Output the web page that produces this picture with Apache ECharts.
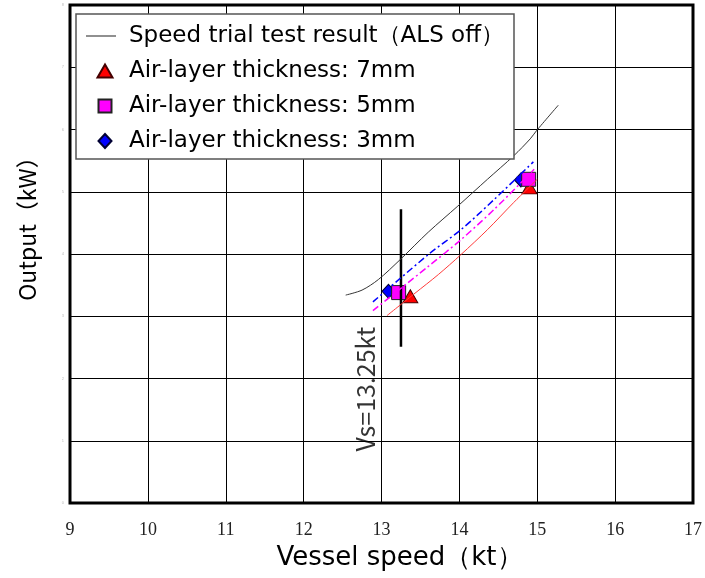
<!DOCTYPE html>
<html>
	<head>
		<meta charset="UTF-8">
		<title>Vessel speed - Output</title>
		<style type="text/css">
			html,body{margin:0;padding:0;background:#fff;}
			#main{
				width:705px;
				height:578px;
			}
		</style>
	</head>
	<body>
		<div id="main"></div>
		<script src="https://cdn.jsdelivr.net/npm/echarts@6.0.0/dist/echarts.min.js" type="text/javascript" charset="utf-8"></script>
		<script type="text/javascript">
			// 速力試験結果 (ALS off)
			var trialSpeed = [12.54, 12.75, 12.96, 13.24, 13.60, 13.98, 14.36, 14.70, 14.91, 14.99, 15.27];
			var trialPower = [3.34, 3.42, 3.59, 3.91, 4.35, 4.77, 5.20, 5.58, 5.85, 5.98, 6.39];
			// 空気層厚さ毎の推定線
			var fit7Speed = [13.07, 13.43, 13.73, 14.02, 14.36, 14.70, 15.00];
			var fit7Power = [3.01, 3.37, 3.67, 3.99, 4.39, 4.83, 5.20];
			var fit5Speed = [12.89, 13.60, 14.02, 14.45, 14.96];
			var fit5Power = [3.09, 3.80, 4.23, 4.72, 5.36];
			var fit3Speed = [12.89, 13.61, 14.02, 14.45, 14.95];
			var fit3Power = [3.23, 4.00, 4.39, 4.88, 5.48];
			// 計測点
			var pt7Speed = [13.37, 14.90];
			var pt7Power = [3.32, 5.07];
			var pt5Speed = [13.22, 14.89];
			var pt5Power = [3.38, 5.20];
			var pt3Speed = [13.09, 14.79];
			var pt3Power = [3.40, 5.19];
			// Vs=13.25kt
			var vsSpeed = [13.25, 13.25];
			var vsPower = [2.51, 4.72];
			var xTicks = [9, 10, 11, 12, 13, 14, 15, 16, 17];

			var names = ['Speed trial test result（ALS off）', 'Air-layer thickness: 7mm', 'Air-layer thickness: 5mm', 'Air-layer thickness: 3mm'];

			function zip(xs, ys){
				var out = [];
				for(var i = 0; i < xs.length; i++){
					out.push([xs[i], ys[i]]);
				}
				return out;
			}

			// 凡例アイコン (38x14 の枠の中に描く)
			var pad = 'M0,0Z M38,14Z ';
			var iconLine = 'path://' + pad + 'M0,6.5H30V7.5H0Z';
			var iconTri = 'path://' + pad + 'M11.5,13.5L19,0.5L26.5,13.5Z';
			var iconRect = 'path://' + pad + 'M12.5,0.5H25.5V13.5H12.5Z';
			var iconDia = 'path://' + pad + 'M19,0L25.5,7L19,14L12.5,7Z';

			var myChart = echarts.init(document.getElementById("main"));
			var option = {
				animation:false,
				grid:{
					left:70, right:8, top:5, bottom:75,
					show:true,
					borderColor:'#000',
					borderWidth:3
				},
				legend:{
					data:[
						{name:names[0], icon:iconLine},
						{name:names[1], icon:iconTri},
						{name:names[2], icon:iconRect},
						{name:names[3], icon:iconDia}
					],
					orient:'vertical',
					left:76, top:14,
					itemWidth:38, itemHeight:14, itemGap:11,
					backgroundColor:'#fff',
					borderColor:'#555',
					borderWidth:1.5,
					borderRadius:0,
					padding:[10,10,6,9],
					textStyle:{fontFamily:'DejaVu Sans', fontSize:23, lineHeight:24, color:'#000'}
				},
				xAxis:{
					type:'value',
					min:xTicks[0], max:xTicks[xTicks.length - 1], interval:1,
					axisLine:{show:false},
					axisTick:{show:false},
					splitLine:{lineStyle:{color:'#000', width:1}},
					axisLabel:{fontFamily:'Liberation Serif', fontSize:18, color:'#222', margin:18},
					name:'Vessel speed（kt）',
					nameLocation:'middle',
					nameGap:42,
					nameTextStyle:{fontFamily:'DejaVu Sans', fontSize:26, color:'#000', padding:[0,0,0,36]}
				},
				yAxis:{
					type:'value',
					min:0, max:8, interval:1,
					axisLine:{show:false},
					axisTick:{show:false},
					splitLine:{lineStyle:{color:'#000', width:1}},
					axisLabel:{fontSize:4, color:'#bbb', margin:6},
					name:'Output（kW）',
					nameLocation:'middle',
					nameGap:31,
					nameTextStyle:{fontFamily:'Noto Sans CJK JP', fontSize:23, color:'#000', padding:[0,0,0,62]}
				},
				series:[
					{
						type:'line', name:'vs', data:zip(vsSpeed, vsPower),
						symbol:'none', silent:true,
						lineStyle:{color:'#000', width:2.5}
					},
					{
						type:'line', name:names[0], data:zip(trialSpeed, trialPower),
						symbol:'none', smooth:0.3,
						itemStyle:{color:'#222'},
						lineStyle:{color:'#333', width:1}
					},
					{
						type:'line', name:'fit7', data:zip(fit7Speed, fit7Power),
						symbol:'none', smooth:0.3,
						lineStyle:{color:'#ff3b3b', width:1}
					},
					{
						type:'line', name:'fit5', data:zip(fit5Speed, fit5Power),
						symbol:'none', smooth:0.3,
						lineStyle:{color:'#ff00ff', width:1.5, type:[7,3,2,3]}
					},
					{
						type:'line', name:'fit3', data:zip(fit3Speed, fit3Power),
						symbol:'none', smooth:0.3,
						lineStyle:{color:'#0000ff', width:1.5, type:[7,3,2,3]}
					},
					{
						type:'scatter', name:names[1], data:zip(pt7Speed, pt7Power),
						symbol:'triangle', symbolSize:[15,13],
						itemStyle:{color:'#ff0000', borderColor:'#400', borderWidth:1, opacity:1}
					},
					{
						type:'scatter', name:names[3], data:zip(pt3Speed, pt3Power),
						symbol:'diamond', symbolSize:[13,14],
						itemStyle:{color:'#0000ff', borderColor:'#003', borderWidth:1, opacity:1}
					},
					{
						type:'scatter', name:names[2], data:zip(pt5Speed, pt5Power),
						symbol:'rect', symbolSize:14,
						itemStyle:{color:'#ff00ff', borderColor:'#222', borderWidth:1, opacity:1}
					},
					{
						type:'scatter', name:'vsLabel', data:[[12.8, 1.83]],
						symbolSize:0, silent:true,
						label:{
							show:true, position:'inside', rotate:90,
							formatter:'Vs=13.25kt',
							fontFamily:'Liberation Sans Narrow, Noto Sans CJK JP',
							fontSize:25, color:'#000'
						}
					}
				]
			};
			myChart.setOption(option);
		</script>
	</body>
</html>
